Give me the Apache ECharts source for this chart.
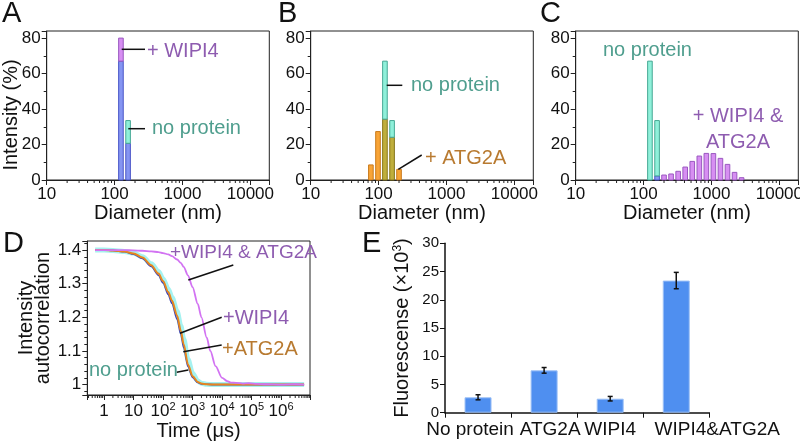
<!DOCTYPE html>
<html>
<head>
<meta charset="utf-8">
<script src="https://cdn.jsdelivr.net/npm/echarts@6/dist/echarts.min.js"></script>
<style>
  html, body { margin: 0; padding: 0; background: #fff; }
  #main { width: 800px; height: 442px; }
</style>
</head>
<body>
<div id="main"></div>
<script>
// ---- A-C: DLS size distributions (intensity %) ----
const diamBins = [77, 98, 124, 158, 200, 254, 323, 410, 521, 662, 840, 1067, 1355, 1721, 2186, 2776];
const noProtein = [0, 0, 67, 33.5, 0, 0, 0, 0, 0, 0, 0, 0, 0, 0, 0, 0];
const plusWipi4 = [0, 0, 80, 20.7, 0, 0, 0, 0, 0, 0, 0, 0, 0, 0, 0, 0];
const plusAtg2a = [8.5, 27.3, 34.3, 24.1, 6, 0, 0, 0, 0, 0, 0, 0, 0, 0, 0, 0];
const plusBoth = [0, 0, 0, 2.3, 2.8, 3.4, 4.9, 7.3, 10.5, 13.5, 15, 14.9, 12.2, 8.8, 4.3, 1.3];

// ---- D: intensity autocorrelation ----
const tau = [0.5, 1, 2, 5, 10, 20, 40, 70, 100, 150, 200, 300, 400, 500, 700, 1000, 1500, 2000, 3000, 5000, 1e4, 1e5, 1e6, 6e6];
const gNoProtein = [1.400, 1.400, 1.399, 1.396, 1.391, 1.380, 1.359, 1.336, 1.315, 1.284, 1.260, 1.218, 1.175, 1.136, 1.075, 1.034, 1.011, 1.004, 1.001, 1.000, 1.000, 1.000, 1.000, 1.000];
const gWipi4 = [1.400, 1.400, 1.399, 1.395, 1.388, 1.375, 1.351, 1.325, 1.302, 1.268, 1.241, 1.194, 1.150, 1.110, 1.053, 1.021, 1.006, 1.002, 1.001, 1.000, 1.000, 1.000, 1.000, 1.000];
const gAtg2a = [1.400, 1.400, 1.399, 1.396, 1.390, 1.378, 1.355, 1.330, 1.308, 1.275, 1.250, 1.205, 1.160, 1.120, 1.060, 1.025, 1.008, 1.003, 1.001, 1.000, 1.000, 1.000, 1.000, 1.000];
const tauBoth = [0.5, 1, 2, 5, 10, 20, 40, 70, 100, 150, 200, 300, 400, 500, 700, 1000, 1500, 2000, 3000, 4000, 6000, 1e4, 1.5e4, 2e4, 3e4, 5e4, 8e4, 1.5e5, 3e5, 1e6, 3e6, 6e6];
const gBoth = [1.400, 1.400, 1.400, 1.400, 1.399, 1.398, 1.396, 1.394, 1.391, 1.387, 1.382, 1.372, 1.362, 1.350, 1.325, 1.290, 1.240, 1.200, 1.140, 1.100, 1.055, 1.020, 1.010, 1.006, 1.005, 1.003, 1.004, 1.002, 1.001, 1.000, 1.001, 1.000];

// ---- E: fluorescence (x10^3) ----
const samples = ['No protein', 'ATG2A', 'WIPI4', 'WIPI4&ATG2A'];
const fluor = [2.73, 7.5, 2.48, 23.4];
const fluorErr = [0.45, 0.5, 0.4, 1.45];

// minor log ticks (2..9 per decade)
const minorMult = [2, 3, 4, 5, 6, 7, 8, 9];
const diamDecades = [10, 100, 1000];
const tauDecades = [0.1, 1, 10, 100, 1000, 1e4, 1e5, 1e6];

const FONT = 'Liberation Sans, Arial, sans-serif';
const C_TEAL = '#4f9e8e', C_PURPLE = '#8e5cb0', C_ORANGE = '#b87a30';

const chart = echarts.init(document.getElementById('main'));

const diamMin = 10, diamMax = 19000;
const tauMin = 0.272, tauMax = 9.5e6;
const gMin = 0.969, gMax = 1.427;

function isPow10(v) {
  const l = Math.log10(v);
  return Math.abs(l - Math.round(l)) < 1e-6;
}

// overlapping histogram: no-protein (a) vs. treated sample (b)
function histSeries(idx, other, colB, overlap) {
  const half = Math.pow(10, 0.034);
  return {
    type: 'custom',
    xAxisIndex: idx,
    yAxisIndex: idx,
    data: diamBins.map((d, i) => [d, noProtein[i], other[i]]),
    renderItem(params, api) {
      const d = api.value(0), a = api.value(1), b = api.value(2);
      const lo = Math.min(a, b), hi = Math.max(a, b);
      const x0 = api.coord([d / half, 0])[0];
      const x1 = api.coord([d * half, 0])[0];
      const y0 = api.coord([d, 0])[1];
      const yLo = api.coord([d, lo])[1];
      const yHi = api.coord([d, hi])[1];
      const kids = [];
      if (lo > 0) {
        kids.push({ type: 'rect', shape: { x: x0, y: yLo, width: x1 - x0, height: y0 - yLo },
          style: { fill: overlap[0], stroke: overlap[1], lineWidth: 1 } });
      }
      if (hi > lo) {
        const c = b > a ? colB : ['#8ff0da', '#46a894'];
        kids.push({ type: 'rect', shape: { x: x0, y: yHi, width: x1 - x0, height: yLo - yHi },
          style: { fill: c[0], stroke: c[1], lineWidth: 1 } });
      }
      return { type: 'group', children: kids };
    },
    z: 3
  };
}

function minorTickSeries(idx, decades, lo, hi, yBase) {
  const vals = [];
  decades.forEach(dec => minorMult.forEach(m => {
    const v = dec * m;
    if (v > lo && v < hi) vals.push([v, yBase]);
  }));
  return {
    type: 'custom',
    xAxisIndex: idx,
    yAxisIndex: idx,
    data: vals,
    silent: true,
    renderItem(params, api) {
      const p = api.coord([api.value(0), api.value(1)]);
      return { type: 'line', shape: { x1: p[0], y1: p[1], x2: p[0], y2: p[1] + 3 },
        style: { stroke: '#222', lineWidth: 1 } };
    },
    z: 4
  };
}

const gridBase = { show: true, borderColor: '#222', borderWidth: 1, backgroundColor: 'transparent', outerBoundsMode: 'none', containLabel: false };

function diamXAxis(gi) {
  return {
    type: 'log', gridIndex: gi, logBase: 10, min: diamMin, max: diamMax,
    name: 'Diameter (nm)', nameLocation: 'middle', nameGap: 23,
    nameTextStyle: { fontSize: 20, color: '#111', fontFamily: FONT },
    axisLine: { show: true, lineStyle: { color: '#222', width: 1 } },
    axisTick: { show: true, length: 5, lineStyle: { color: '#222' } },
    axisLabel: { fontSize: 17, color: '#111', fontFamily: FONT, margin: 6,
      formatter: v => isPow10(v) ? String(Math.round(v)) : '' },
    splitLine: { show: false }
  };
}

function pctYAxis(gi) {
  return {
    type: 'value', gridIndex: gi, min: 0, max: 84, splitNumber: 4,
    axisLine: { show: true, lineStyle: { color: '#222', width: 1 } },
    axisTick: { show: true, length: 5, lineStyle: { color: '#222' } },
    minorTick: { show: true, splitNumber: 2, length: 3, lineStyle: { color: '#222' } },
    axisLabel: { fontSize: 17, color: '#111', fontFamily: FONT, margin: 6,
      formatter: v => (Math.abs(v % 20) < 1e-6 ? String(v) : '') },
    splitLine: { show: false }
  };
}

function txt(text, x, y, color, size, align) {
  return { type: 'text', x: x, y: y, z: 50,
    style: { text: text, fill: color, font: size + 'px ' + FONT, align: align || 'left', verticalAlign: 'middle' } };
}
function seg(x1, y1, x2, y2) {
  return { type: 'line', z: 50, shape: { x1, y1, x2, y2 }, style: { stroke: '#111', lineWidth: 1.5 } };
}

// category labels sit slightly off the bar centres in the original
const labelPad = [[0, 16, 0, 0], [0, 0, 0, 12], [0, 0, 0, 0], [0, 0, 0, 82]];

const option = {
  animation: false,
  backgroundColor: '#fff',
  textStyle: { fontFamily: FONT },
  grid: [
    Object.assign({ left: 46.7, top: 31, width: 222.6, height: 149 }, gridBase),
    Object.assign({ left: 310.7, top: 31, width: 222.6, height: 149 }, gridBase),
    Object.assign({ left: 575.7, top: 31, width: 222.6, height: 149 }, gridBase),
    Object.assign({ left: 87.3, top: 241, width: 222.7, height: 154 }, gridBase),
    { left: 445, top: 243.3, width: 264.3, height: 169.4, show: false, outerBoundsMode: 'none', containLabel: false }
  ],
  xAxis: [
    diamXAxis(0), diamXAxis(1), diamXAxis(2),
    {
      type: 'log', gridIndex: 3, logBase: 10, min: tauMin, max: tauMax,
      name: 'Time (\u03bcs)', nameLocation: 'middle', nameGap: 21,
      nameTextStyle: { fontSize: 20, color: '#111', fontFamily: FONT },
      axisLine: { show: true, lineStyle: { color: '#222', width: 1 } },
      axisTick: { show: true, length: 5, lineStyle: { color: '#222' } },
      axisLabel: {
        fontSize: 17, color: '#111', fontFamily: FONT, margin: 6, lineHeight: 20,
        formatter: v => {
          if (!isPow10(v)) return '';
          const e = Math.round(Math.log10(v));
          if (e === 0) return '1';
          if (e === 1) return '10';
          return '10{s|' + e + '}';
        },
        rich: { s: { fontSize: 11, verticalAlign: 'top', lineHeight: 12, fontFamily: FONT, color: '#111' } }
      },
      splitLine: { show: false }
    },
    {
      type: 'category', gridIndex: 4,
      data: samples.map((s, i) => ({ value: s, textStyle: { padding: labelPad[i] } })),
      axisLine: { show: true, lineStyle: { color: '#111', width: 1.5 } },
      axisTick: { show: true, length: 5, lineStyle: { color: '#111' } },
      axisLabel: { fontSize: 19, color: '#111', fontFamily: FONT, margin: 8, interval: 0 },
      splitLine: { show: false }
    }
  ],
  yAxis: [
    pctYAxis(0), pctYAxis(1), pctYAxis(2),
    {
      type: 'value', gridIndex: 3, min: gMin, max: gMax, splitNumber: 5,
      name: 'Intensity\nautocorrelation', nameLocation: 'middle', nameGap: 34,
      nameTextStyle: { fontSize: 20, color: '#111', fontFamily: FONT, lineHeight: 17 },
      axisLine: { show: true, lineStyle: { color: '#222', width: 1 } },
      axisTick: { show: true, length: 5, lineStyle: { color: '#222' } },
      minorTick: { show: true, splitNumber: 5, length: 3, lineStyle: { color: '#222' } },
      axisLabel: { fontSize: 17, color: '#111', fontFamily: FONT, margin: 6,
        formatter: v => {
          const r = Math.round(v * 10) / 10;
          return Math.abs(v - r) < 1e-6 ? String(r) : '';
        } },
      splitLine: { show: false }
    },
    {
      type: 'value', gridIndex: 4, min: 0, max: 30, interval: 5,
      name: 'Fluorescense (\u00d710{s|3})', nameLocation: 'middle', nameGap: 33,
      nameTextStyle: { fontSize: 20, color: '#111', fontFamily: FONT,
        rich: { s: { fontSize: 12, verticalAlign: 'top', lineHeight: 12, fontFamily: FONT, color: '#111' } } },
      axisLine: { show: true, lineStyle: { color: '#111', width: 1.5 } },
      axisTick: { show: true, length: 5, lineStyle: { color: '#111' } },
      axisLabel: { fontSize: 15, color: '#111', fontFamily: FONT, margin: 6 },
      splitLine: { show: false }
    }
  ],
  series: [
    histSeries(0, plusWipi4, ['#d78ef2', '#9a58c0'], ['#8595f2', '#4a56c8']),
    histSeries(1, plusAtg2a, ['#f8a436', '#c97a1c'], ['#bfae3c', '#86761c']),
    histSeries(2, plusBoth, ['#d78ef2', '#9a58c0'], ['#8595f2', '#4a56c8']),
    minorTickSeries(0, diamDecades, diamMin, diamMax, 0),
    minorTickSeries(1, diamDecades, diamMin, diamMax, 0),
    minorTickSeries(2, diamDecades, diamMin, diamMax, 0),
    minorTickSeries(3, tauDecades, tauMin, tauMax, gMin),
    {
      name: 'no protein', type: 'line', xAxisIndex: 3, yAxisIndex: 3,
      data: tau.map((t, i) => [t, gNoProtein[i]]),
      showSymbol: false, smooth: 0.3, smoothMonotone: 'x',
      lineStyle: { color: '#a6f2f0', width: 5 }, z: 2
    },
    {
      name: '+WIPI4', type: 'line', xAxisIndex: 3, yAxisIndex: 3,
      data: tau.map((t, i) => [t, gWipi4[i]]),
      showSymbol: false, smooth: 0.3, smoothMonotone: 'x',
      lineStyle: { color: '#3f45b8', width: 1.6 }, z: 3
    },
    {
      name: '+ATG2A', type: 'line', xAxisIndex: 3, yAxisIndex: 3,
      data: tau.map((t, i) => [t, gAtg2a[i]]),
      showSymbol: false, smooth: 0.3, smoothMonotone: 'x',
      lineStyle: { color: '#e8861c', width: 2 }, z: 4
    },
    {
      name: '+WIPI4 & ATG2A', type: 'line', xAxisIndex: 3, yAxisIndex: 3,
      data: tauBoth.map((t, i) => [t, gBoth[i]]),
      showSymbol: false, smooth: 0.3, smoothMonotone: 'x',
      lineStyle: { color: '#d273f2', width: 1.8 }, z: 5
    },
    {
      type: 'bar', xAxisIndex: 4, yAxisIndex: 4, data: fluor, barWidth: 27,
      itemStyle: { color: '#4f8ff0', borderColor: '#9cc0f6', borderWidth: 1 }, z: 2
    },
    {
      type: 'custom', xAxisIndex: 4, yAxisIndex: 4,
      data: fluor.map((v, i) => [i, v - fluorErr[i], v + fluorErr[i]]),
      renderItem(params, api) {
        const lo = api.coord([api.value(0), api.value(1)]);
        const hi = api.coord([api.value(0), api.value(2)]);
        const s = { stroke: '#111', lineWidth: 1.5 };
        return { type: 'group', children: [
          { type: 'line', shape: { x1: lo[0], y1: lo[1], x2: hi[0], y2: hi[1] }, style: s },
          { type: 'line', shape: { x1: lo[0] - 2.5, y1: lo[1], x2: lo[0] + 2.5, y2: lo[1] }, style: s },
          { type: 'line', shape: { x1: hi[0] - 2.5, y1: hi[1], x2: hi[0] + 2.5, y2: hi[1] }, style: s }
        ] };
      },
      z: 5
    }
  ],
  graphic: [
    txt('A', 2, 14, '#111', 29), txt('B', 278, 14, '#111', 29), txt('C', 540, 14, '#111', 29),
    txt('D', 3, 244, '#111', 29), txt('E', 362, 244, '#111', 29),
    // panel A y-axis title (sits a little below the axis centre in the original)
    { type: 'text', x: 11, y: 115, rotation: Math.PI / 2, z: 50,
      style: { text: 'Intensity (%)', fill: '#111', font: '20px ' + FONT, align: 'center', verticalAlign: 'middle' } },
    // A
    seg(121.7, 49.3, 145, 49.3), txt('+ WIPI4', 147, 51, C_PURPLE, 20),
    seg(128.3, 128.7, 145, 128.7), txt('no protein', 152, 128.5, C_TEAL, 20),
    // B
    seg(386.7, 85.3, 402.3, 85.3), txt('no protein', 411, 85, C_TEAL, 20),
    seg(398.3, 169.3, 421.7, 155), txt('+ ATG2A', 425, 158.5, C_ORANGE, 20),
    // C
    txt('no protein', 603, 50, C_TEAL, 20),
    txt('+ WIPI4 &', 738, 116, C_PURPLE, 20, 'center'),
    txt('ATG2A', 738, 142, C_PURPLE, 20, 'center'),
    // D
    seg(188.3, 280, 233.3, 265), txt('+WIPI4 & ATG2A', 170, 253, C_PURPLE, 19),
    seg(180, 333.3, 221.7, 317.3), txt('+WIPI4', 223, 318, C_PURPLE, 20),
    seg(183.3, 351.7, 221.7, 345), txt('+ATG2A', 222, 349.5, C_ORANGE, 20),
    seg(176.7, 372.3, 188.3, 370), txt('no protein', 89, 370, C_TEAL, 20)
  ]
};

chart.setOption(option);
</script>
</body>
</html>
